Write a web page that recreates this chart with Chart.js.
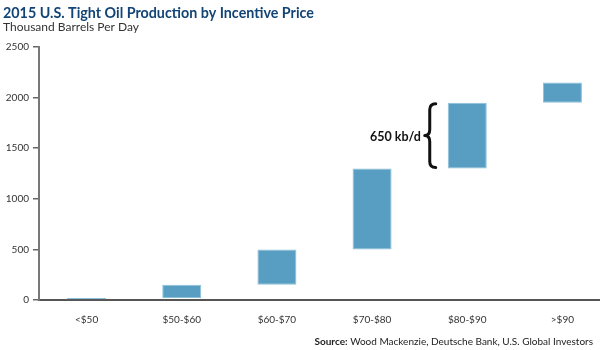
<!DOCTYPE html>
<html>
<head>
<meta charset="utf-8">
<script src="https://cdn.jsdelivr.net/npm/chart.js@4.4.1/dist/chart.umd.min.js"></script>
<style>
  html, body { margin: 0; padding: 0; background: #fff; overflow: hidden; }
  #wrap { position: relative; width: 612px; height: 350px; }
</style>
</head>
<body>
<div id="wrap"><canvas id="c" width="612" height="350"></canvas></div>
<script>
const titleText = '2015 U.S. Tight Oil Production by Incentive Price';
const subtitleText = 'Thousand Barrels Per Day';
const sourceLabel = 'Source:';
const sourceText = ' Wood Mackenzie, Deutsche Bank, U.S. Global Investors';

const categories = ['<$50', '$50-$60', '$60-$70', '$70-$80', '$80-$90', '>$90'];
const barStart = [0, 20, 150, 500, 1300, 1950];
const barEnd   = [20, 150, 500, 1300, 1950, 2150];

const yMin = 0, yMax = 2500, yStep = 500;

const braceFrom = 1300, braceTo = 1950, braceIndex = 4;
const braceLabel = '650 kb/d';

const FONT = 'Lato, "Open Sans", sans-serif';

const textPlugin = {
  id: 'texts',
  afterDraw(chart) {
    const ctx = chart.ctx;
    ctx.save();
    // title
    ctx.fillStyle = '#134476';
    ctx.font = 'bold 14.3px ' + FONT;
    ctx.textAlign = 'left';
    ctx.textBaseline = 'alphabetic';
    ctx.fillText(titleText, 3, 18);
    // subtitle
    ctx.fillStyle = '#333';
    ctx.font = '12px ' + FONT;
    ctx.fillText(subtitleText, 3, 31);
    // source (right aligned)
    ctx.font = '10px ' + FONT;
    const w2 = ctx.measureText(sourceText).width;
    ctx.font = 'bold 10px ' + FONT;
    const w1 = ctx.measureText(sourceLabel).width;
    const right = 593, base = 345;
    ctx.fillStyle = '#222';
    ctx.fillText(sourceLabel, right - w1 - w2, base);
    ctx.font = '10px ' + FONT;
    ctx.fillText(sourceText, right - w2, base);

    // brace annotation
    const y = chart.scales.y;
    const bar = chart.getDatasetMeta(0).data[braceIndex];
    const top = y.getPixelForValue(braceTo);
    const bot = y.getPixelForValue(braceFrom);
    const mid = (top + bot) / 2;
    const x = bar.x - bar.width / 2 - 18;
    ctx.strokeStyle = '#111';
    ctx.lineWidth = 3;
    ctx.lineCap = 'round';
    ctx.lineJoin = 'round';
    ctx.beginPath();
    ctx.moveTo(x + 6, top + 1);
    ctx.quadraticCurveTo(x, top + 1, x, top + 7);
    ctx.lineTo(x, mid - 6);
    ctx.quadraticCurveTo(x, mid, x - 5, mid);
    ctx.quadraticCurveTo(x, mid, x, mid + 6);
    ctx.lineTo(x, bot - 7);
    ctx.quadraticCurveTo(x, bot - 1, x + 6, bot - 1);
    ctx.stroke();
    ctx.fillStyle = '#111';
    ctx.font = 'bold 12.5px ' + FONT;
    ctx.textAlign = 'right';
    ctx.textBaseline = 'middle';
    ctx.fillText(braceLabel, x - 9, mid + 1);
    ctx.restore();
  }
};

new Chart(document.getElementById('c'), {
  type: 'bar',
  data: {
    labels: categories,
    datasets: [{
      data: categories.map((_, i) => [barStart[i], barEnd[i]]),
      backgroundColor: '#589ec2',
      borderColor: '#8cc0da',
      borderWidth: 1,
      borderSkipped: false,
      categoryPercentage: 0.41,
      barPercentage: 1
    }]
  },
  options: {
    responsive: false,
    animation: false,
    layout: { padding: { top: 47, right: 2, bottom: 0, left: 0 } },
    plugins: { legend: { display: false }, tooltip: { enabled: false }, title: { display: false } },
    scales: {
      x: {
        afterFit(s) { s.height = 50; },
        grid: { display: true, drawOnChartArea: false, drawTicks: false },
        border: { color: '#555', width: 2 },
        ticks: { color: '#333', font: { family: FONT, size: 10 }, padding: 14 }
      },
      y: {
        min: yMin, max: yMax,
        afterFit(s) { s.width = 39; },
        grid: { display: true, drawOnChartArea: false, drawTicks: true, tickLength: 6, tickColor: '#666', lineWidth: 1.5 },
        border: { color: '#777', width: 2 },
        ticks: { stepSize: yStep, color: '#333', font: { family: FONT, size: 10 }, padding: 4,
                 callback: v => String(v) }
      }
    }
  },
  plugins: [textPlugin]
});
</script>
</body>
</html>
